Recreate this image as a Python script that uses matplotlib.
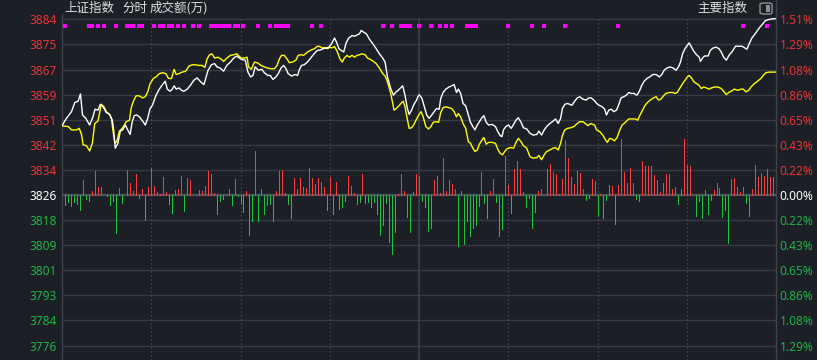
import matplotlib
matplotlib.use('Agg')
import matplotlib.pyplot as plt
import matplotlib.transforms as mtransforms
from matplotlib.patches import FancyBboxPatch, Rectangle

# ---------------- data ----------------
prev_close = 3826.0
step = 8.25

left_labels = ['3884', '3875', '3867', '3859', '3851', '3842', '3834', '3826',
               '3818', '3809', '3801', '3793', '3784', '3776']
right_labels = ['1.51%', '1.29%', '1.08%', '0.86%', '0.65%', '0.43%', '0.22%', '0.00%',
                '0.22%', '0.43%', '0.65%', '0.86%', '1.08%', '1.29%']

white_t = [0, 1.5, 3.2, 4.3, 5.4, 6.2, 6.9, 8.0, 9.3, 10.4, 11.1, 12.1, 12.9, 13.8, 14.9, 16.0, 16.9, 17.3, 17.9, 18.8,
           19.6, 20.4, 21.3, 22.1, 22.9, 23.6, 24.3, 25.1, 26.0, 27.1, 28.0, 28.8, 29.6, 30.4, 31.6, 32.7, 33.8, 34.7, 35.4, 36.3,
           37.1, 37.7, 38.4, 39.3, 40.2, 41.0, 42.1, 43.2, 44.3, 45.4, 46.6, 47.7, 48.2, 49.1, 50.2, 51.3, 52.1, 53.2, 54.3, 55.4,
           56.6, 57.7, 58.8,
           59.2, 60.3, 61.6, 62.5, 63.4, 64.2, 64.9, 66.0, 67.2, 68.0, 69.2, 70.0, 70.9, 71.9, 72.7, 73.6, 74.5, 75.3, 76.0, 77.2,
           78.3, 79.2, 79.7, 80.5, 81.4, 82.5, 83.6, 84.7, 85.8, 86.9, 87.8, 88.9, 89.7, 90.6, 91.6, 92.3, 93.1, 93.9, 94.7, 95.5,
           96.4, 97.5, 98.3, 99.2, 100.0, 100.6, 101.4, 102.3, 103.4, 104.5, 105.6, 106.7, 107.8, 108.6, 109.4, 110.5, 111.4, 112.3,
           113.0, 113.8, 114.5, 115.3, 116.1, 116.7, 117.5, 118.3, 119.2,
           119.6, 120.1, 121.0, 121.8, 122.6, 123.4, 124.3, 125.1, 125.9, 126.8, 127.3, 128.1, 129.0, 130.1, 131.0, 131.8, 132.6,
           133.2, 134.0, 134.8, 135.7, 136.6, 137.3, 138.1, 138.8, 139.6, 140.3, 141.0, 141.8, 142.6, 143.4, 144.6, 145.7, 146.6,
           147.3, 147.9, 148.4, 149.2, 150.1, 151.0, 151.8, 152.6, 153.4, 154.3, 155.1, 156.2, 157.3, 158.4, 159.6, 160.3, 161.2,
           162.1, 162.9, 164.0, 165.1, 165.9, 166.8, 167.6, 168.2, 169.0, 169.9, 170.7, 171.4, 172.3, 173.2, 174.0, 175.1, 176.2,
           177.0, 177.9, 179.0,
           179.7, 180.5, 181.6, 182.4, 183.0, 183.8, 184.6, 185.5, 186.4, 187.2, 187.9, 188.8, 189.7, 190.5, 191.3, 192.2, 193.3,
           194.2, 194.9, 195.7, 196.6, 197.5, 198.6, 199.7, 200.8, 201.6, 202.4, 203.3, 204.4, 205.5, 206.4, 207.2, 207.9, 208.6,
           209.4, 210.2, 210.8, 211.6, 212.4, 213.3, 214.2, 214.6, 215.3, 216.0, 217.2, 217.9, 218.8, 219.9, 220.8, 221.6, 222.4,
           223.3, 224.2, 225.3, 226.4, 227.5, 228.6, 229.4, 230.2, 231.0, 231.9, 233.0, 233.8, 234.6, 235.5, 236.4, 237.7, 238.8, 240]
white_v = [3848.8, 3851.2, 3853.4, 3856.4, 3856.8, 3859.2, 3852.3, 3851.2, 3849.0, 3851.7, 3854.2, 3853.9, 3855.8, 3855.0,
           3853.1, 3852.5, 3850.6, 3847.9, 3841.4, 3843.0, 3847.0, 3847.4, 3849.0, 3847.4, 3845.9, 3850.1, 3852.1, 3852.3,
           3851.7, 3850.3, 3849.0, 3851.2, 3854.4, 3855.5, 3858.8, 3860.8, 3862.3, 3863.4, 3860.8, 3860.1, 3860.8, 3861.9,
           3860.8, 3861.2, 3860.4, 3860.1, 3860.8, 3862.1, 3863.7, 3864.5, 3863.2, 3862.3, 3864.0, 3867.0, 3868.8, 3869.2,
           3868.1, 3867.7, 3866.7, 3868.6, 3869.7, 3871.0, 3871.7,
           3871.3, 3870.6, 3870.3, 3866.4, 3864.8, 3865.3, 3868.1, 3867.0, 3867.3, 3866.2, 3865.3, 3865.3, 3864.0, 3864.8,
           3865.9, 3867.7, 3868.6, 3867.5, 3865.9, 3865.1, 3865.6, 3865.3, 3867.0, 3868.6, 3868.8, 3869.7, 3871.0, 3872.4,
           3873.5, 3873.7, 3874.1, 3874.3, 3874.6, 3875.7, 3877.6, 3876.2, 3874.1, 3873.5, 3873.0, 3876.0, 3877.6, 3878.4,
           3878.2, 3878.6, 3879.0, 3880.1, 3879.5, 3879.0, 3877.1, 3875.7, 3874.1, 3872.4, 3871.0, 3869.7, 3864.8, 3861.0,
           3858.8, 3859.9, 3860.4, 3861.2, 3861.9, 3858.8, 3854.4, 3852.5, 3853.9, 3855.8, 3857.2,
           3858.3, 3859.0, 3857.7, 3855.0, 3852.3, 3851.2, 3852.3, 3853.4, 3854.4, 3854.2, 3857.7, 3859.7, 3860.8, 3861.5,
           3861.9, 3862.3, 3859.7, 3860.8, 3859.4, 3856.1, 3855.3, 3852.3, 3849.9, 3848.5, 3847.4, 3849.0, 3850.1, 3851.2,
           3852.1, 3849.9, 3849.0, 3849.2, 3848.5, 3846.6, 3845.5, 3845.2, 3847.4, 3848.5, 3849.0, 3847.9, 3849.2, 3850.6,
           3851.4, 3849.9, 3848.1, 3847.7, 3846.3, 3845.7, 3845.9, 3847.0, 3845.7, 3847.4, 3848.5, 3849.5, 3850.3, 3851.0,
           3849.5, 3851.2, 3854.4, 3855.8, 3856.1, 3855.8, 3855.5, 3856.8, 3857.9, 3858.3, 3857.5, 3857.2, 3857.9, 3857.9,
           3857.0,
           3856.1, 3855.5, 3855.0, 3854.2, 3852.3, 3853.9, 3854.2, 3853.4, 3853.9, 3855.8, 3857.9, 3858.3, 3858.8, 3859.7,
           3859.4, 3859.4, 3858.8, 3860.4, 3862.1, 3863.4, 3864.3, 3864.8, 3865.6, 3865.6, 3864.8, 3865.6, 3867.0, 3867.7,
           3868.1, 3867.7, 3867.0, 3868.1, 3869.7, 3872.4, 3874.1, 3875.2, 3876.0, 3874.6, 3873.2, 3872.1, 3871.3, 3869.9,
           3871.0, 3871.7, 3871.7, 3873.5, 3874.3, 3874.6, 3874.1, 3873.0, 3871.3, 3870.3, 3871.9, 3873.2, 3874.9, 3874.9,
           3874.9, 3874.4, 3873.9, 3875.7, 3877.6, 3879.0, 3880.1, 3881.2, 3882.2, 3883.3, 3883.7, 3883.9, 3884.0]

yellow_t = [0.2, 2.1, 3.2, 4.9, 5.8, 6.6, 7.1, 8.2, 9.3, 10.2, 11.0, 12.1, 12.7, 13.2, 14.1, 14.9, 16.0, 16.6, 17.1, 17.8,
            18.4, 19.3, 20.4, 21.6, 22.7, 23.2, 24.0, 24.9, 26.0, 27.1, 28.0, 28.8, 29.6, 30.7, 31.8, 32.7, 33.8, 34.9, 35.8,
            36.8, 37.7, 38.4, 39.3, 40.4, 41.6, 42.7, 43.8, 44.9, 46.0, 47.1, 48.0, 48.8, 49.6, 50.4, 51.3, 52.4, 53.6, 54.3,
            55.4, 56.6, 57.7, 58.8,
            59.2, 60.3, 61.4, 62.2, 62.7, 63.6, 64.7, 65.8, 66.9, 68.0, 69.2, 70.3, 71.4, 72.3, 73.1, 73.8, 74.7, 75.6, 76.4,
            77.5, 78.6, 79.4, 80.3, 81.2, 82.5, 83.8, 84.9, 85.8, 86.7, 87.5, 88.3, 89.2, 90.0, 90.9, 91.6, 92.5, 93.4, 94.2,
            94.9, 95.8, 96.6, 97.5, 98.3, 99.2, 100.0, 100.8, 101.9, 102.7, 103.6, 104.7, 105.6, 106.7, 107.8, 108.6, 109.4,
            110.5, 111.6, 112.3, 113.4, 114.2, 114.7, 115.3, 115.8, 116.7, 117.5, 118.3, 119.2,
            119.9, 120.7, 121.4, 122.3, 123.2, 124.0, 124.8, 125.7, 126.6, 127.3, 128.1, 129.0, 130.1, 131.0, 131.8, 132.6,
            133.2, 134.0, 134.8, 135.7, 136.6, 137.3, 138.1, 138.8, 139.6, 140.3, 141.2, 141.8, 142.6, 143.4, 144.6, 145.7,
            146.6, 147.3, 148.1, 148.8, 149.6, 150.7, 151.8, 152.6, 153.4, 154.3, 155.1, 156.2, 157.3, 158.4, 159.6, 160.3,
            161.2, 162.1, 162.9, 164.0, 165.1, 165.9, 166.8, 167.6, 168.2, 169.0, 169.9, 171.0, 172.1, 173.2, 174.0, 175.1,
            175.9, 176.8, 177.7, 179.0,
            179.7, 180.8, 181.9, 182.7, 183.3, 184.1, 184.9, 185.7, 186.6, 187.5, 188.3, 189.4, 190.5, 191.6, 192.7, 193.5,
            194.4, 195.3, 196.0, 196.8, 197.7, 198.8, 199.7, 200.5, 201.3, 202.2, 203.0, 204.2, 205.3, 206.0, 206.8, 207.7,
            208.6, 209.4, 210.2, 210.8, 211.6, 212.4, 213.3, 214.1, 214.9, 215.7, 216.6, 217.5, 218.3, 219.4, 220.5, 221.6,
            222.4, 223.3, 224.1, 224.9, 226.0, 227.1, 228.2, 229.0, 229.9, 230.8, 231.6, 232.7, 233.8, 234.9, 235.7, 236.6,
            237.7, 238.8, 240]
yellow_v = [3848.7, 3848.5, 3847.4, 3847.4, 3847.9, 3845.7, 3842.5, 3842.2, 3840.5, 3843.0, 3849.5, 3850.3, 3853.4, 3855.8,
            3855.0, 3853.4, 3852.5, 3851.2, 3847.4, 3843.0, 3843.5, 3847.0, 3848.1, 3850.1, 3850.6, 3854.4, 3856.8, 3858.6,
            3858.6, 3857.9, 3858.3, 3859.9, 3862.6, 3864.3, 3865.0, 3865.9, 3866.2, 3865.9, 3864.3, 3864.3, 3867.3, 3865.6,
            3865.9, 3866.4, 3866.7, 3868.4, 3868.8, 3868.8, 3868.6, 3868.6, 3867.9, 3870.8, 3872.1, 3872.4, 3871.0, 3871.3,
            3870.6, 3869.9, 3871.0, 3871.9, 3872.1, 3872.4,
            3871.9, 3871.0, 3871.0, 3871.3, 3868.1, 3867.3, 3869.7, 3869.4, 3868.6, 3868.1, 3867.7, 3867.5, 3867.5, 3868.6,
            3870.8, 3871.9, 3871.9, 3870.8, 3869.5, 3869.7, 3870.3, 3871.9, 3872.1, 3871.9, 3873.0, 3873.7, 3874.1, 3874.9,
            3874.8, 3874.3, 3874.5, 3874.1, 3874.5, 3874.4, 3874.8, 3873.2, 3870.8, 3869.7, 3871.0, 3871.9, 3871.3, 3871.9,
            3871.3, 3871.9, 3872.1, 3872.4, 3872.1, 3871.0, 3870.6, 3869.9, 3869.2, 3867.7, 3865.9, 3865.1, 3863.2, 3859.4,
            3853.9, 3854.4, 3855.5, 3856.4, 3856.8, 3855.0, 3852.3, 3847.9, 3848.1, 3849.2, 3851.0,
            3852.3, 3853.4, 3851.7, 3848.5, 3847.7, 3848.5, 3849.9, 3850.1, 3849.9, 3853.1, 3854.7, 3855.0, 3854.7, 3854.4,
            3853.4, 3851.7, 3852.8, 3851.7, 3849.5, 3847.9, 3843.5, 3843.0, 3841.4, 3840.3, 3840.8, 3842.7, 3844.1, 3844.9,
            3842.7, 3843.3, 3843.3, 3843.0, 3840.8, 3839.7, 3839.2, 3840.3, 3841.2, 3841.6, 3841.4, 3843.3, 3844.6, 3843.5,
            3842.2, 3841.4, 3838.6, 3838.1, 3838.3, 3839.0, 3837.6, 3839.2, 3840.3, 3840.8, 3841.4, 3841.6, 3840.8, 3843.0,
            3845.5, 3847.4, 3847.9, 3848.1, 3848.5, 3849.5, 3850.1, 3850.1, 3849.5, 3848.8, 3849.5, 3849.0,
            3847.4, 3846.8, 3845.5, 3844.1, 3843.3, 3844.6, 3844.4, 3843.8, 3844.9, 3847.4, 3849.0, 3849.9, 3851.0, 3851.0,
            3851.0, 3850.6, 3852.5, 3854.2, 3855.5, 3856.4, 3857.2, 3857.9, 3858.3, 3857.2, 3857.5, 3858.6, 3859.4, 3859.7,
            3859.7, 3859.4, 3859.7, 3861.2, 3862.6, 3863.7, 3864.8, 3865.3, 3864.5, 3863.2, 3862.6, 3862.1, 3861.0, 3861.5,
            3861.2, 3860.8, 3861.2, 3861.5, 3861.5, 3861.0, 3860.1, 3859.0, 3859.7, 3860.1, 3860.8, 3860.4, 3860.8, 3860.8,
            3859.9, 3860.4, 3861.5, 3862.6, 3863.4, 3864.3, 3865.3, 3866.2, 3866.4, 3866.4, 3866.4]

up_minutes = [7, 10, 11, 12, 13, 19, 22, 23, 24, 25, 27, 29, 30, 31, 32, 33, 34, 35, 38, 39, 40, 42, 43, 46, 47, 48, 49,
              50, 51, 56, 58, 62, 65, 67, 72, 73, 74, 75, 78, 79, 80, 81, 82, 83, 84, 85, 86, 87, 88, 90, 92, 96, 97, 98,
              101, 113, 114, 115, 118, 119, 120, 125, 126, 127, 128, 129, 130, 131, 132, 134, 141, 144, 145, 149, 150, 152,
              153, 154, 155, 160, 161, 163, 164, 165, 166, 167, 168, 169, 170, 171, 172, 173, 174, 175, 178, 179, 181, 184,
              185, 187, 188, 189, 190, 191, 192, 195, 196, 197, 198, 199, 200, 201, 202, 203, 204, 205, 206, 208, 209, 210,
              211, 216, 219, 220, 221, 225, 226, 227, 228, 229, 232, 233, 234, 235, 236, 237, 238, 239, 240]
up_values = [5.0, 1.4, 8.0, 2.7, 2.7, 2.4, 8.3, 4.0, 1.4, 7.0, 2.1, 2.7, 8.9, 2.8, 1.1, 0.4, 6.0, 1.1, 1.7, 2.1, 6.3, 5.7,
             5.0, 1.7, 1.4, 3.1, 8.0, 7.0, 0.8, 2.1, 5.3, 1.2, 14.5, 2.1, 1.4, 8.0, 8.3, 0.8, 5.7, 2.1, 5.7, 2.7, 2.4, 8.9,
             5.7, 3.7, 5.7, 4.4, 2.7, 6.0, 4.4, 6.3, 3.1, 0.8, 7.0, 0.4, 7.0, 1.4, 1.1, 7.0, 6.3, 5.0, 6.3, 0.8, 12.2, 1.4,
             5.0, 3.7, 2.1, 1.4, 7.6, 1.4, 5.3, 12.9, 3.4, 8.6, 11.2, 8.6, 1.1, 1.4, 2.1, 8.6, 10.2, 7.6, 7.0, 0.4, 5.3,
             18.1, 12.2, 6.0, 3.7, 8.0, 7.3, 2.1, 5.3, 4.7, 0.4, 3.4, 3.1, 3.4, 18.4, 7.6, 4.0, 8.9, 4.0, 11.2, 9.6, 9.6,
             9.6, 6.6, 5.0, 1.1, 4.0, 7.0, 7.0, 2.1, 2.7, 2.1, 18.4, 9.9, 9.6, 1.7, 1.7, 4.0, 2.4, 5.3, 5.7, 2.7, 1.1, 2.7,
             2.1, 9.9, 6.0, 7.3, 6.3, 8.6, 6.0, 6.0, 12.2]
down_minutes = [1, 2, 3, 4, 5, 6, 8, 9, 15, 16, 17, 18, 20, 26, 28, 36, 37, 41, 52, 53, 54, 57, 59, 60, 61, 63, 64, 66,
                68, 69, 70, 71, 76, 77, 89, 91, 93, 94, 95, 99, 100, 102, 103, 104, 105, 106, 107, 108, 109, 110, 111, 112,
                116, 117, 121, 122, 123, 124, 133, 135, 136, 137, 138, 139, 140, 142, 143, 146, 147, 148, 151, 156, 157,
                158, 159, 176, 177, 180, 182, 183, 186, 193, 194, 207, 213, 214, 215, 217, 218, 222, 223, 224, 230, 231]
down_values = [3.2, 2.3, 3.5, 2.2, 2.8, 5.0, 1.2, 1.9, 0.4, 3.2, 1.9, 12.6, 2.7, 0.9, 8.1, 2.8, 5.8, 5.1, 6.4, 1.9, 1.2,
               3.2, 0.4, 2.5, 5.5, 13.0, 8.7, 8.4, 6.4, 3.2, 2.8, 8.7, 2.8, 7.7, 4.8, 6.1, 4.5, 3.8, 1.9, 2.8, 2.2, 2.5,
               2.2, 4.1, 2.2, 6.1, 13.3, 9.7, 2.5, 15.6, 19.5, 12.3, 7.1, 12.3, 1.9, 3.8, 11.7, 11.0, 16.9, 16.2, 8.4,
               13.6, 10.7, 10.0, 3.5, 2.5, 7.7, 2.2, 13.6, 11.3, 5.8, 3.8, 0.9, 10.7, 5.5, 1.5, 0.9, 6.8, 7.7, 1.5, 9.4,
               1.2, 1.9, 2.8, 6.8, 1.9, 7.4, 6.1, 1.5, 7.1, 4.8, 15.9, 2.5, 6.8]

marker_minutes = [1, 9, 10, 12, 14, 18, 22, 23, 24, 26, 27, 31, 33, 34, 36, 37, 39, 41, 44, 46, 50, 51, 52, 53, 54, 55,
                  56, 58, 59, 61, 66, 70, 72, 73, 74, 75, 76, 84, 87, 108, 111, 114, 115, 116, 117, 120, 124, 127, 129,
                  131, 136, 137, 138, 139, 150, 158, 162, 169, 187, 229, 237]

# ---------------- style ----------------
W, H = 817, 360
BG = '#1c1f26'
GRID = '#363a45'
RED = '#ff3b3b'
GREEN = '#19c43f'
LBL_RED = '#e83434'
LBL_GREEN = '#1db445'
NUM_FONT = ['Noto Sans', 'DejaVu Sans']
CJK = ['Noto Sans CJK SC', 'DejaVu Sans']

fig = plt.figure(figsize=(W / 100, H / 100), dpi=100)
fig.patch.set_facecolor(BG)

x0, x1, ytop = 62, 776, 18
ax = fig.add_axes([x0 / W, 0, (x1 - x0) / W, (H - ytop) / H])
ax.set_facecolor(BG)
ppx = 0.3287
ax.set_xlim(0, 240)
ax.set_ylim(prev_close - 165 * ppx, prev_close + 177 * ppx)

levels = [prev_close + k * step for k in range(7, -7, -1)]
for lv in levels:
    if abs(lv - prev_close) > 1e-6:
        ax.axhline(lv, color=GRID, lw=1.0, zorder=1)
ax.axhline(prev_close, color='#4c515c', lw=1.6, zorder=1)

for m in [30, 60, 90, 150, 180, 210]:
    ax.axvline(m, color='#4a4f5a', lw=0.9, ls=(0, (1, 2.2)), zorder=1)
ax.axvline(120, color='#3e434e', lw=1.1, zorder=1)

# bars (1 px wide)
ax.vlines(up_minutes, prev_close, [prev_close + v for v in up_values], color=RED, lw=0.72,
          antialiased=False, zorder=2)
ax.vlines(down_minutes, prev_close, [prev_close - v for v in down_values], color=GREEN, lw=0.72,
          antialiased=False, zorder=2)

# lines
ax.plot(yellow_t, yellow_v, color='#ffff00', lw=1.0, zorder=3)
ax.plot(white_t, white_v, color='#ffffff', lw=1.0, zorder=4)

# markers
trans = mtransforms.blended_transform_factory(ax.transData, ax.transAxes)
ax.plot(marker_minutes, [0.9757] * len(marker_minutes), 's', ms=2.4, mew=0,
        color='#ff00ff', transform=trans, clip_on=False, zorder=5)

for s in ['top', 'bottom']:
    ax.spines[s].set_visible(False)
for s in ['left', 'right']:
    ax.spines[s].set_color('#3e434e')
    ax.spines[s].set_linewidth(1.0)
ax.set_xticks([])

ax.set_yticks(levels)
ax.set_yticklabels(left_labels, fontsize=8.6, family=NUM_FONT)
ax.tick_params(axis='y', length=0, pad=3.5)
for i, t in enumerate(ax.get_yticklabels()):
    t.set_color(LBL_RED if i < 7 else ('#ffffff' if i == 7 else LBL_GREEN))

ax2 = ax.twinx()
ax2.set_ylim(ax.get_ylim())
ax2.set_yticks(levels)
ax2.set_yticklabels(right_labels, fontsize=8.6, family=NUM_FONT)
ax2.tick_params(axis='y', length=0, pad=2.5)
for i, t in enumerate(ax2.get_yticklabels()):
    t.set_color(LBL_RED if i < 7 else ('#ffffff' if i == 7 else LBL_GREEN))
for s in ax2.spines.values():
    s.set_visible(False)

# header
hc = '#dedede'
fig.text(64 / W, 1 - 8 / H, '上证指数', ha='left', va='center', fontsize=9, color=hc, family=CJK)
fig.text(122 / W, 1 - 8 / H, '分时', ha='left', va='center', fontsize=9, color=hc, family=CJK)
fig.text(150 / W, 1 - 8 / H, '成交额(万)', ha='left', va='center', fontsize=9, color=hc, family=CJK)
fig.text(747 / W, 1 - 8 / H, '主要指数', ha='right', va='center', fontsize=9, color=hc, family=CJK)

# little toggle icon
fig.patches.append(FancyBboxPatch((760 / W, 1 - 14 / H), 12 / W, 11 / H, boxstyle='round,pad=0,rounding_size=0.004',
                                  transform=fig.transFigure, fill=False, ec='#909090', lw=1.0))
fig.patches.append(Rectangle((766 / W, 1 - 12 / H), 3.5 / W, 7 / H, transform=fig.transFigure,
                             fc='#909090', ec='none'))
fig.add_artist(plt.Line2D([x0 / W, x0 / W], [1 - 18 / H, 1 - 14 / H], color='#3e434e', lw=1.0))
fig.add_artist(plt.Line2D([x1 / W, x1 / W], [1 - 18 / H, 1.0], color='#3e434e', lw=1.0))

fig.savefig('out.png', dpi=100, facecolor=BG)
